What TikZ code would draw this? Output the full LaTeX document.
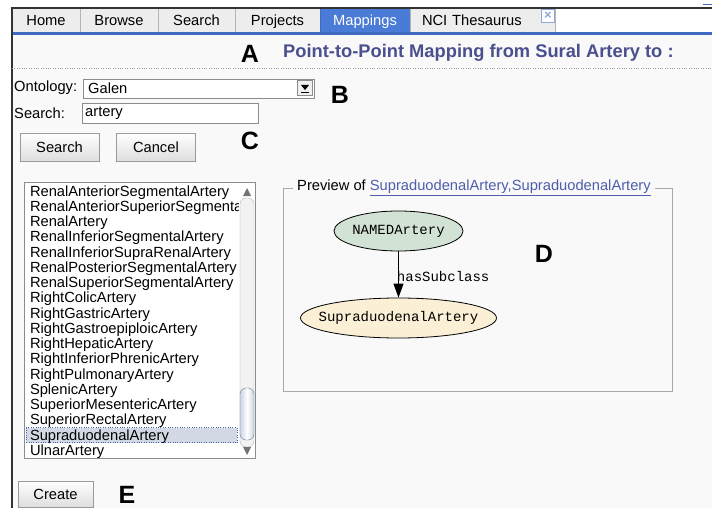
\documentclass[tikz,border=0pt]{standalone}
\usepackage{fontspec}
\setmainfont{Liberation Sans}
\setmonofont{Liberation Mono}
\usetikzlibrary{positioning, arrows.meta, shapes.geometric}

\definecolor{tabfill}{HTML}{EDEDED}
\definecolor{tabline}{HTML}{B4B4B4}
\definecolor{selblue}{HTML}{4A7BD6}
\definecolor{barblue}{HTML}{3F6CC2}
\definecolor{titleblue}{HTML}{4A4F8E}
\definecolor{linkblue}{HTML}{4E5EAC}
\definecolor{pagebg}{HTML}{F9F9F9}
\definecolor{btnline}{HTML}{9A9A9A}
\definecolor{boxline}{HTML}{8C8C8C}
\definecolor{fsline}{HTML}{A8A8A8}
\definecolor{selitem}{HTML}{D2D9E5}
\definecolor{selline}{HTML}{4A62A8}
\definecolor{thumbfill}{HTML}{C9D4E3}
\definecolor{thumbline}{HTML}{6A7A90}
\definecolor{iconblue}{HTML}{8FA6D8}
\definecolor{namedfill}{HTML}{D2E2D5}
\definecolor{supfill}{HTML}{FBF0D5}

\newcommand{\uifont}{\fontsize{14.7}{16}\selectfont}
\newcommand{\bigletter}{\fontsize{25}{28}\selectfont\bfseries}

\begin{document}
\begin{tikzpicture}[x=1pt, y=-1pt, node distance=0pt]

	\tikzstyle{tab}=[draw=tabline, fill=tabfill, minimum height=24pt, inner sep=0pt, outer sep=0pt, text height=10.5pt, text depth=0pt, font=\uifont]
	\tikzstyle{seltab}=[tab, draw=barblue, fill=selblue, text=white]
	\tikzstyle{button}=[draw=btnline, top color=white, bottom color=black!13, minimum width=79pt, minimum height=28pt, inner sep=0pt, font=\uifont]
	\tikzstyle{field}=[draw=boxline, fill=white, inner xsep=5pt, inner ysep=0pt, anchor=north west, align=left, font=\uifont]
	\tikzstyle{uilabel}=[anchor=west, inner sep=0pt, font=\uifont]
	\tikzstyle{letter}=[inner sep=0pt, font=\bigletter]
	\tikzstyle{item}=[inner sep=0pt, outer sep=0pt, minimum height=15.24pt, text height=10.5pt, text depth=0pt, font=\uifont]
	\tikzstyle{gnode}=[ellipse, draw, line width=0.8pt, inner sep=0pt, minimum height=40pt, font=\ttfamily\fontsize{14}{16}\selectfont]

	\tikzstyle{edge}=[-{Triangle[length=14pt, width=10pt]}, line width=0.9pt]

	\useasboundingbox (0,0) rectangle (712,508);
	\fill[white] (0,0) rectangle (712,508);
	\fill[pagebg] (12,34) rectangle (712,508);

	% tabs
	\node[tab, minimum width=68pt, anchor=north west] (home) at (12,8) {Home};
	\node[tab, minimum width=78pt, right=of home] (browse) {Browse};
	\node[tab, minimum width=77pt, right=of browse] (search) {Search};
	\node[tab, minimum width=85pt, right=of search] (projects) {Projects};
	\node[seltab, minimum width=90pt, right=of projects] (mappings) {Mappings};
	\node[tab, right=of mappings, inner xsep=12pt, text width=121pt, align=left] (nci) {NCI Thesaurus};
	\node[draw=iconblue, fill=white, minimum size=13pt, inner sep=0pt, text=iconblue, font=\fontsize{13}{13}\selectfont\bfseries] (close) at (548,16) {×};

	\fill[barblue] (12,32) rectangle (712,35);
	\draw[black!80, line width=1.2pt] (12,508) -- (12,8) -- (712,8);
	\draw[barblue, line width=1pt] (703,5) -- (712,5);

	% title
	\node[letter] (A) at (250,54) {A};
	\node[anchor=west, inner sep=0pt, text=titleblue, font=\fontsize{18.3}{20}\selectfont\bfseries] (title) at (283,52.5) {Point-to-Point Mapping from Sural Artery to :};
	\draw[black!40, dotted] (12,68) -- (712,68);

	% ontology and search fields
	\node[uilabel] (ontlabel) at (14,88) {Ontology:};
	\node[field, minimum width=231pt, minimum height=19pt, text width=221pt] (ontology) at (83,79) {Galen};
	\node[draw=boxline, fill=black!6, minimum size=15pt, inner sep=0pt] (ddbutton) at (305,88) {};
	\fill (301,85) -- (309,85) -- (305,90) -- cycle;
	\draw (301,92) -- (309,92);
	\node[letter] (B) at (340,95) {B};

	\node[uilabel] (searchlabel) at (14,113) {Search:};
	\node[field, minimum width=176pt, minimum height=20pt, inner xsep=3pt, text width=170pt] (searchfield) at (82,103) {artery};

	\node[button] (searchbtn) at (59.5,147) {Search};
	\node[button, right=17pt of searchbtn] (cancelbtn) {Cancel};
	\node[letter] (C) at (250,141) {C};

	% result list
	\node[draw=boxline, fill=white, minimum width=231pt, minimum height=276pt, inner sep=0pt, anchor=north west] (listbox) at (24,182) {};
	\draw[black!30, fill=black!5, rounded corners=6pt] (240,198) rectangle (254,447);
	\fill[black!55] (243,196) -- (251,196) -- (247,188) -- cycle;
	\fill[black!55] (243,447) -- (251,447) -- (247,455) -- cycle;
	\node[draw=thumbline, left color=thumbfill, right color=thumbfill, middle color=white, rounded corners=6pt, minimum width=14pt, minimum height=52pt, inner sep=0pt] (thumb) at (247,414) {};

	\begin{scope}
	\clip (25,183) rectangle (238,457);
	\node[draw=selline, dotted, fill=selitem, minimum width=211pt, minimum height=15pt, inner sep=0pt, anchor=west] (selbar) at (26,435) {};
	\node[item, anchor=west] (item1) at (30,191) {RenalAnteriorSegmentalArtery};
	\node[item, below=of item1.south west, anchor=north west] (item2) {RenalAnteriorSuperiorSegmentalArtery};
	\node[item, below=of item2.south west, anchor=north west] (item3) {RenalArtery};
	\node[item, below=of item3.south west, anchor=north west] (item4) {RenalInferiorSegmentalArtery};
	\node[item, below=of item4.south west, anchor=north west] (item5) {RenalInferiorSupraRenalArtery};
	\node[item, below=of item5.south west, anchor=north west] (item6) {RenalPosteriorSegmentalArtery};
	\node[item, below=of item6.south west, anchor=north west] (item7) {RenalSuperiorSegmentalArtery};
	\node[item, below=of item7.south west, anchor=north west] (item8) {RightColicArtery};
	\node[item, below=of item8.south west, anchor=north west] (item9) {RightGastricArtery};
	\node[item, below=of item9.south west, anchor=north west] (item10) {RightGastroepiploicArtery};
	\node[item, below=of item10.south west, anchor=north west] (item11) {RightHepaticArtery};
	\node[item, below=of item11.south west, anchor=north west] (item12) {RightInferiorPhrenicArtery};
	\node[item, below=of item12.south west, anchor=north west] (item13) {RightPulmonaryArtery};
	\node[item, below=of item13.south west, anchor=north west] (item14) {SplenicArtery};
	\node[item, below=of item14.south west, anchor=north west] (item15) {SuperiorMesentericArtery};
	\node[item, below=of item15.south west, anchor=north west] (item16) {SuperiorRectalArtery};
	\node[item, below=of item16.south west, anchor=north west] (item17) {SupraduodenalArtery};
	\node[item, below=of item17.south west, anchor=north west] (item18) {UlnarArtery};
	\end{scope}

	\node[button, minimum width=75pt, minimum height=26pt] (create) at (55.5,494) {Create};
	\node[letter] (E) at (127,495) {E};

	% preview
	\node[draw=fsline, minimum width=389pt, minimum height=203pt, inner sep=0pt, anchor=north west] (preview) at (283,188) {};
	\node[fill=pagebg, inner xsep=4pt, inner ysep=1pt, anchor=west, font=\uifont] (legend) at (293,188) {Preview of \textcolor{linkblue}{\underline{SupraduodenalArtery,SupraduodenalArtery}}};

	\node[gnode, fill=namedfill, minimum width=129pt] (named) at (398.5,231) {\makebox[0pt]{NAMEDArtery}};
	\node[gnode, fill=supfill, minimum width=196pt] (supra) at (398.5,318) {\makebox[0pt]{SupraduodenalArtery}};
	\draw[edge] (named) -- (supra) node[pos=0.55, anchor=west, inner sep=0pt, xshift=-2pt, font=\ttfamily\fontsize{14}{16}\selectfont] {hasSubclass};

	\node[letter] (D) at (544,254) {D};

\end{tikzpicture}
\end{document}
